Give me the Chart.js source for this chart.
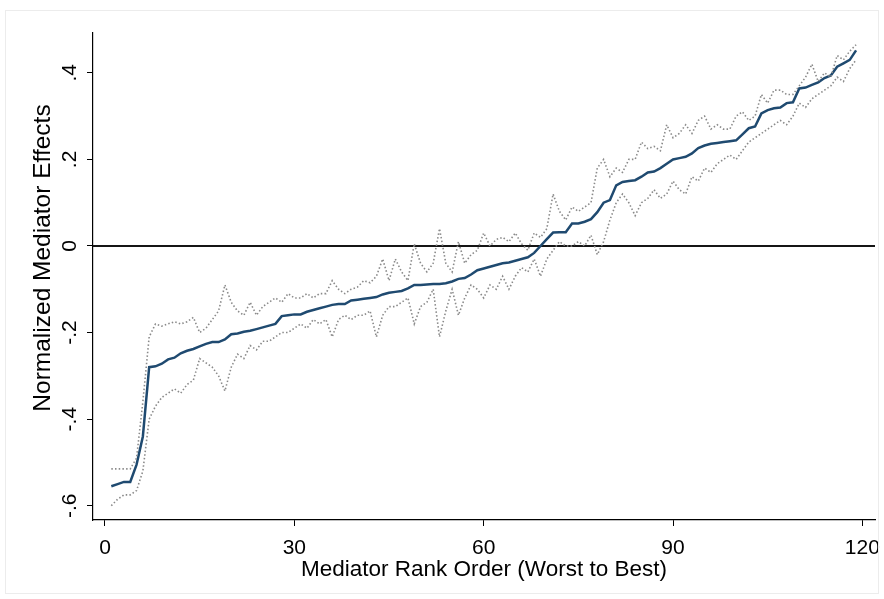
<!DOCTYPE html>
<html>
<head>
<meta charset="utf-8">
<script src="https://cdn.jsdelivr.net/npm/chart.js@4.4.1/dist/chart.umd.min.js"></script>
<style>
  html, body { margin: 0; padding: 0; background: #fff; }
  #wrap { position: relative; width: 884px; height: 599px; }
  #frame { position: absolute; left: 5px; top: 10px; width: 874px; height: 584px; border: 1px solid #ececec; box-sizing: border-box; pointer-events: none; }
</style>
</head>
<body>
<div id="wrap">
  <canvas id="c" width="884" height="599"></canvas>
  <div id="frame"></div>
</div>
<script>
// Mediator rank (worst to best)
const ranks = Array.from({ length: 119 }, (_, i) => i + 1);

// Normalized mediator effect estimates, ordered by rank
const effect = [
  -0.555, -0.550, -0.545, -0.545, -0.505, -0.440, -0.280, -0.278, -0.272, -0.262,
  -0.258, -0.248, -0.242, -0.238, -0.232, -0.226, -0.222, -0.222, -0.216, -0.204,
  -0.202, -0.198, -0.196, -0.192, -0.188, -0.184, -0.180, -0.162, -0.160, -0.158,
  -0.158, -0.152, -0.148, -0.144, -0.140, -0.136, -0.134, -0.134, -0.126, -0.124,
  -0.122, -0.120, -0.118, -0.112, -0.108, -0.106, -0.104, -0.098, -0.090, -0.090,
  -0.089, -0.088, -0.088, -0.086, -0.082, -0.076, -0.074, -0.066, -0.056, -0.052,
  -0.048, -0.044, -0.040, -0.038, -0.034, -0.030, -0.026, -0.016, 0.000, 0.016,
  0.031, 0.032, 0.032, 0.052, 0.052, 0.056, 0.062, 0.078, 0.100, 0.106,
  0.140, 0.148, 0.150, 0.152, 0.160, 0.170, 0.172, 0.180, 0.190, 0.200,
  0.203, 0.206, 0.214, 0.226, 0.232, 0.236, 0.238, 0.240, 0.242, 0.244,
  0.258, 0.272, 0.276, 0.306, 0.314, 0.318, 0.320, 0.330, 0.332, 0.364,
  0.366, 0.372, 0.378, 0.388, 0.394, 0.414, 0.422, 0.430, 0.452
];

// Upper confidence bound
const upper = [
  -0.515, -0.515, -0.515, -0.515, -0.490, -0.360, -0.210, -0.180, -0.185, -0.180,
  -0.175, -0.180, -0.175, -0.165, -0.200, -0.190, -0.170, -0.150, -0.090, -0.130,
  -0.150, -0.160, -0.130, -0.160, -0.140, -0.130, -0.120, -0.130, -0.110, -0.120,
  -0.120, -0.110, -0.120, -0.110, -0.110, -0.080, -0.100, -0.110, -0.100, -0.095,
  -0.080, -0.085, -0.070, -0.030, -0.080, -0.030, -0.060, -0.080, 0.005, -0.040,
  -0.060, -0.040, 0.040, -0.040, -0.060, 0.010, -0.040, -0.020, -0.010, 0.030,
  0.000, 0.015, 0.020, 0.010, 0.030, 0.005, -0.010, 0.030, 0.020, 0.040,
  0.120, 0.080, 0.060, 0.090, 0.080, 0.090, 0.100, 0.180, 0.200, 0.160,
  0.180, 0.170, 0.200, 0.200, 0.240, 0.225, 0.230, 0.220, 0.280, 0.250,
  0.260, 0.280, 0.260, 0.290, 0.300, 0.270, 0.280, 0.270, 0.270, 0.300,
  0.310, 0.290, 0.300, 0.350, 0.330, 0.360, 0.360, 0.350, 0.350, 0.370,
  0.390, 0.420, 0.380, 0.400, 0.390, 0.440, 0.430, 0.450, 0.465
];

// Lower confidence bound
const lower = [
  -0.600, -0.585, -0.575, -0.575, -0.565, -0.520, -0.400, -0.370, -0.350, -0.340,
  -0.330, -0.340, -0.320, -0.310, -0.260, -0.270, -0.280, -0.300, -0.335, -0.280,
  -0.250, -0.260, -0.230, -0.240, -0.220, -0.220, -0.210, -0.200, -0.200, -0.190,
  -0.180, -0.190, -0.170, -0.180, -0.170, -0.210, -0.170, -0.160, -0.170, -0.160,
  -0.160, -0.150, -0.210, -0.160, -0.140, -0.140, -0.130, -0.120, -0.180, -0.140,
  -0.130, -0.100, -0.210, -0.150, -0.100, -0.160, -0.120, -0.090, -0.100, -0.120,
  -0.090, -0.100, -0.070, -0.100, -0.070, -0.050, -0.060, -0.030, -0.070, -0.030,
  -0.010, 0.010, 0.000, 0.000, 0.010, 0.000, 0.025, -0.020, 0.010, 0.060,
  0.100, 0.120, 0.100, 0.070, 0.100, 0.110, 0.130, 0.110, 0.120, 0.150,
  0.130, 0.120, 0.160, 0.150, 0.180, 0.170, 0.190, 0.200, 0.210, 0.200,
  0.220, 0.240, 0.250, 0.260, 0.270, 0.280, 0.290, 0.280, 0.300, 0.330,
  0.320, 0.340, 0.350, 0.360, 0.370, 0.390, 0.380, 0.410, 0.430
];

// Axis ticks and their printed labels
const xTicks = [0, 30, 60, 90, 120];
const yTicks = [-0.6, -0.4, -0.2, 0, 0.2, 0.4];
const yTickLabels = ['-.6', '-.4', '-.2', '0', '.2', '.4'];

const xTitle = 'Mediator Rank Order (Worst to Best)';
const yTitle = 'Normalized Mediator Effects';

const FONT = '"Liberation Sans", Arial, sans-serif';

const toPoints = vals => vals.map((v, i) => ({ x: ranks[i], y: v }));

// Zero reference line, rotated y tick labels and axis titles
const decorations = {
  id: 'decorations',
  beforeDatasetsDraw(chart) {
    const { ctx, chartArea, scales } = chart;
    const y0 = scales.y.getPixelForValue(0);
    ctx.save();
    ctx.strokeStyle = '#151515';
    ctx.lineWidth = 2.2;
    ctx.beginPath();
    ctx.moveTo(chartArea.left, y0);
    ctx.lineTo(chartArea.right, y0);
    ctx.stroke();
    ctx.restore();
  },
  afterDraw(chart) {
    const { ctx, scales, chartArea } = chart;
    ctx.save();
    ctx.fillStyle = '#000';
    ctx.font = '21px ' + FONT;
    ctx.textAlign = 'center';
    ctx.textBaseline = 'middle';
    yTicks.forEach((v, i) => {
      const py = scales.y.getPixelForValue(v);
      ctx.save();
      ctx.translate(70, py);
      ctx.rotate(-Math.PI / 2);
      ctx.fillText(yTickLabels[i], 0, 0);
      ctx.restore();
    });
    xTicks.forEach(v => {
      ctx.fillText(String(v), scales.x.getPixelForValue(v), chartArea.bottom + 28);
    });
    ctx.font = '22.5px ' + FONT;
    ctx.fillText(xTitle, (chartArea.left + chartArea.right) / 2, chartArea.bottom + 50);
    ctx.font = '24.5px ' + FONT;
    ctx.save();
    ctx.translate(43, 258);
    ctx.rotate(-Math.PI / 2);
    ctx.fillText(yTitle, 0, 0);
    ctx.restore();
    ctx.restore();
  }
};

new Chart(document.getElementById('c'), {
  type: 'line',
  data: {
    datasets: [
      {
        data: toPoints(upper),
        borderColor: '#8a8a8a',
        borderWidth: 1.6,
        borderDash: [1.5, 2.2],
        pointRadius: 0,
        fill: false,
        tension: 0
      },
      {
        data: toPoints(lower),
        borderColor: '#8a8a8a',
        borderWidth: 1.6,
        borderDash: [1.5, 2.2],
        pointRadius: 0,
        fill: false,
        tension: 0
      },
      {
        data: toPoints(effect),
        borderColor: '#1f4a70',
        borderWidth: 2.5,
        pointRadius: 0,
        fill: false,
        tension: 0
      }
    ]
  },
  options: {
    responsive: false,
    animation: false,
    layout: { padding: { top: 33, right: 9, bottom: 0, left: 0 } },
    plugins: { legend: { display: false }, tooltip: { enabled: false } },
    scales: {
      x: {
        type: 'linear',
        min: -1.9,
        max: 122,
        afterBuildTicks: s => { s.ticks = xTicks.map(v => ({ value: v })); },
        afterFit: s => { s.height = 79; },
        ticks: { display: false },
        grid: { drawOnChartArea: false, drawTicks: true, tickLength: 6, color: '#000', lineWidth: 1 },
        border: { display: true, color: '#000', width: 1.2 }
      },
      y: {
        type: 'linear',
        min: -0.633,
        max: 0.492,
        afterBuildTicks: s => { s.ticks = yTicks.map(v => ({ value: v })); },
        afterFit: s => { s.width = 93; },
        ticks: { display: false },
        grid: { drawOnChartArea: false, drawTicks: true, tickLength: 6, color: '#000', lineWidth: 1 },
        border: { display: true, color: '#000', width: 1.2 }
      }
    }
  },
  plugins: [decorations]
});
</script>
</body>
</html>
